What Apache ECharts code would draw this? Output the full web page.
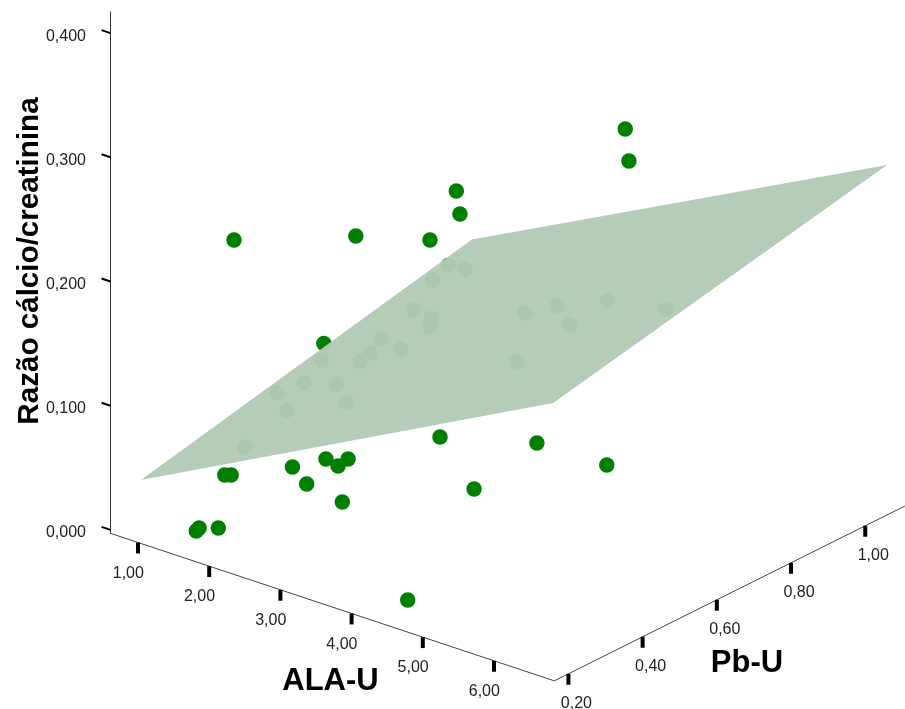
<!DOCTYPE html>
<html><head><meta charset="utf-8">
<style>html,body{margin:0;padding:0;background:#fff}#c{width:905px;height:709px}</style>
<script src="https://cdn.jsdelivr.net/npm/echarts@6/dist/echarts.min.js"></script>
</head><body><div id="c"></div>
<script>
// Data: ALA-U, Pb-U, calcium/creatinine ratio
const frontAla=[1.89,3.34,3.86,3.97,3.76,5.04,4.57,4.78,4.32,3.48,4.48,4.59,2.89,2.57,2.45,2.66,2.45,2.91,2.02,1.85,1.93,1.40,1.62];
const frontPb=[.25,.30,.40,.45,.50,.70,.80,.70,.60,.50,.40,.20,.35,.40,.45,.35,.30,.25,.20,.25,.20,.25,.20];
const frontRatio=[.2446,.2680,.2598,.2939,.2639,.3270,.2774,.0514,.0754,.0791,.0711,.0136,.0378,.0532,.0491,.0680,.0651,.0676,.0653,.0546,.0209,.0034,.0126];
const behindAla=[2.37,3.08,2.79,3.12,3.11,2.84,3.60,3.63,3.56,4.78,3.75,5.09,4.82,3.71,3.17,3.54,3.14,3.12,2.61,2.81,2.49,3.21,2.89,2.30];
const behindPb=[.40,.60,.70,.55,.50,.60,.45,.70,.80,.60,.90,.80,.45,.35,.40,.30,.35,.25,.30,.35,.25,.30,.20,.20];
const behindRatio=[.1481,.1948,.1712,.1911,.1742,.1477,.1773,.1517,.1414,.1796,.1344,.1679,.1726,.1766,.1667,.1774,.1555,.1714,.1362,.1307,.1333,.1311,.1338,.0935];
// Fitted plane corners
const planeAla=[1.04,6.83,6.83,1.00];
const planePb=[.162,.162,1.062,1.062];
const planeRatio=[.0482,.2205,.2781,.1071];
// Axis ticks and ranges
const alaTicks=[1,2,3,4,5,6];
const pbTicks=[.2,.4,.6,.8,1];
const ratioTicks=[0,.1,.2,.3,.4];
const alaRange=[.614,6.847];
const pbRange=[.162,1.107];
const ratioRange=[-.0028,.4171];

// Oblique projection of (ALA, Pb, ratio) on the chart plane
const proj=(a,p,z)=>{const u=a-1,w=p-.162;return [u+5.2107*w, z-(23.66*u-185*w+9)/1242];};
const comma=(v,d)=>v.toFixed(d).replace('.',',');
const font='"Liberation Sans",Arial,sans-serif';
const zf=ratioRange[0], tickLen=.0088;

const segs=[];
alaTicks.forEach(a=>segs.push([proj(a,pbRange[0],zf),proj(a,pbRange[0],zf-tickLen),4]));
pbTicks.forEach(p=>segs.push([proj(alaRange[1],p,zf),proj(alaRange[1],p,zf-tickLen),4]));
ratioTicks.forEach(z=>segs.push([proj(alaRange[0],pbRange[0],z),proj(alaRange[0]-.126,pbRange[0],z),2]));

const labels=[];
alaTicks.forEach(a=>labels.push([proj(a,pbRange[0],zf),comma(a,2),-9.7,30.7]));
pbTicks.forEach(p=>labels.push([proj(alaRange[1],p,zf),comma(p,2),8,29.5]));

const pts=(A,P,Z)=>A.map((a,i)=>proj(a,P[i],Z[i]));
const sym={type:'scatter',symbol:'circle',symbolSize:15.5,clip:false,itemStyle:{color:'#008000',opacity:1},silent:true};
const floorLine=[proj(alaRange[0],pbRange[0],zf),proj(alaRange[1],pbRange[0],zf),proj(alaRange[1],pbRange[1],zf)];

const chart=echarts.init(document.getElementById('c'),null,{renderer:'canvas'});
chart.setOption({
  animation:false,backgroundColor:'#fff',
  grid:{left:110.5,top:12,width:794.5,height:521.5,containLabel:false},
  xAxis:{type:'value',min:-.3862,max:10.772,show:false},
  yAxis:{type:'value',min:ratioRange[0],max:ratioRange[1],position:'left',
    splitLine:{show:false},axisTick:{show:false},
    axisLine:{show:true,onZero:false,lineStyle:{color:'#333',width:1}},
    axisLabel:{customValues:ratioTicks,margin:24.5,color:'#222',fontSize:16,fontFamily:font,verticalAlign:'top',lineHeight:6,
      formatter:v=>comma(v,3)}},
  graphic:[
    {type:'text',x:29.5,y:261,rotation:Math.PI/2,style:{text:'Razão cálcio/creatinina',font:'bold 29.6px '+font,fill:'#000',align:'center',verticalAlign:'middle'}},
    {type:'text',x:330.5,y:681.5,style:{text:'ALA-U',font:'bold 31px '+font,fill:'#000',align:'center',verticalAlign:'middle'}},
    {type:'text',x:747,y:663.5,style:{text:'Pb-U',font:'bold 31px '+font,fill:'#000',align:'center',verticalAlign:'middle'}}
  ],
  series:[
    Object.assign({},sym,{name:'behind',z:1,data:pts(behindAla,behindPb,behindRatio)}),
    {type:'custom',name:'plane',z:2,silent:true,clip:false,coordinateSystem:'cartesian2d',data:[[0,0]],
      renderItem:(p,api)=>({type:'polygon',shape:{points:pts(planeAla,planePb,planeRatio).map(c=>api.coord(c))},
        style:{fill:'rgba(178,203,181,0.96)'}})},
    Object.assign({},sym,{name:'front',z:3,data:pts(frontAla,frontPb,frontRatio)}),
    {type:'line',name:'floor',z:4,silent:true,clip:false,symbol:'none',data:floorLine,lineStyle:{color:'#444',width:1}},
    {type:'custom',name:'ticks',z:5,silent:true,clip:false,data:segs.map((s,i)=>[i,0]),
      renderItem:(p,api)=>{const s=segs[p.dataIndex],a=api.coord(s[0]),b=api.coord(s[1]);
        return {type:'line',shape:{x1:a[0],y1:a[1],x2:b[0],y2:b[1]},style:{stroke:'#000',lineWidth:s[2]}};}},
    {type:'custom',name:'tickLabels',z:6,silent:true,clip:false,data:labels.map((s,i)=>[i,0]),
      renderItem:(p,api)=>{const l=labels[p.dataIndex],a=api.coord(l[0]);
        return {type:'text',style:{x:a[0]+l[2],y:a[1]+l[3],text:l[1],align:'center',verticalAlign:'middle',font:'16px '+font,fill:'#222'}};}}
  ]
});
</script></body></html>
